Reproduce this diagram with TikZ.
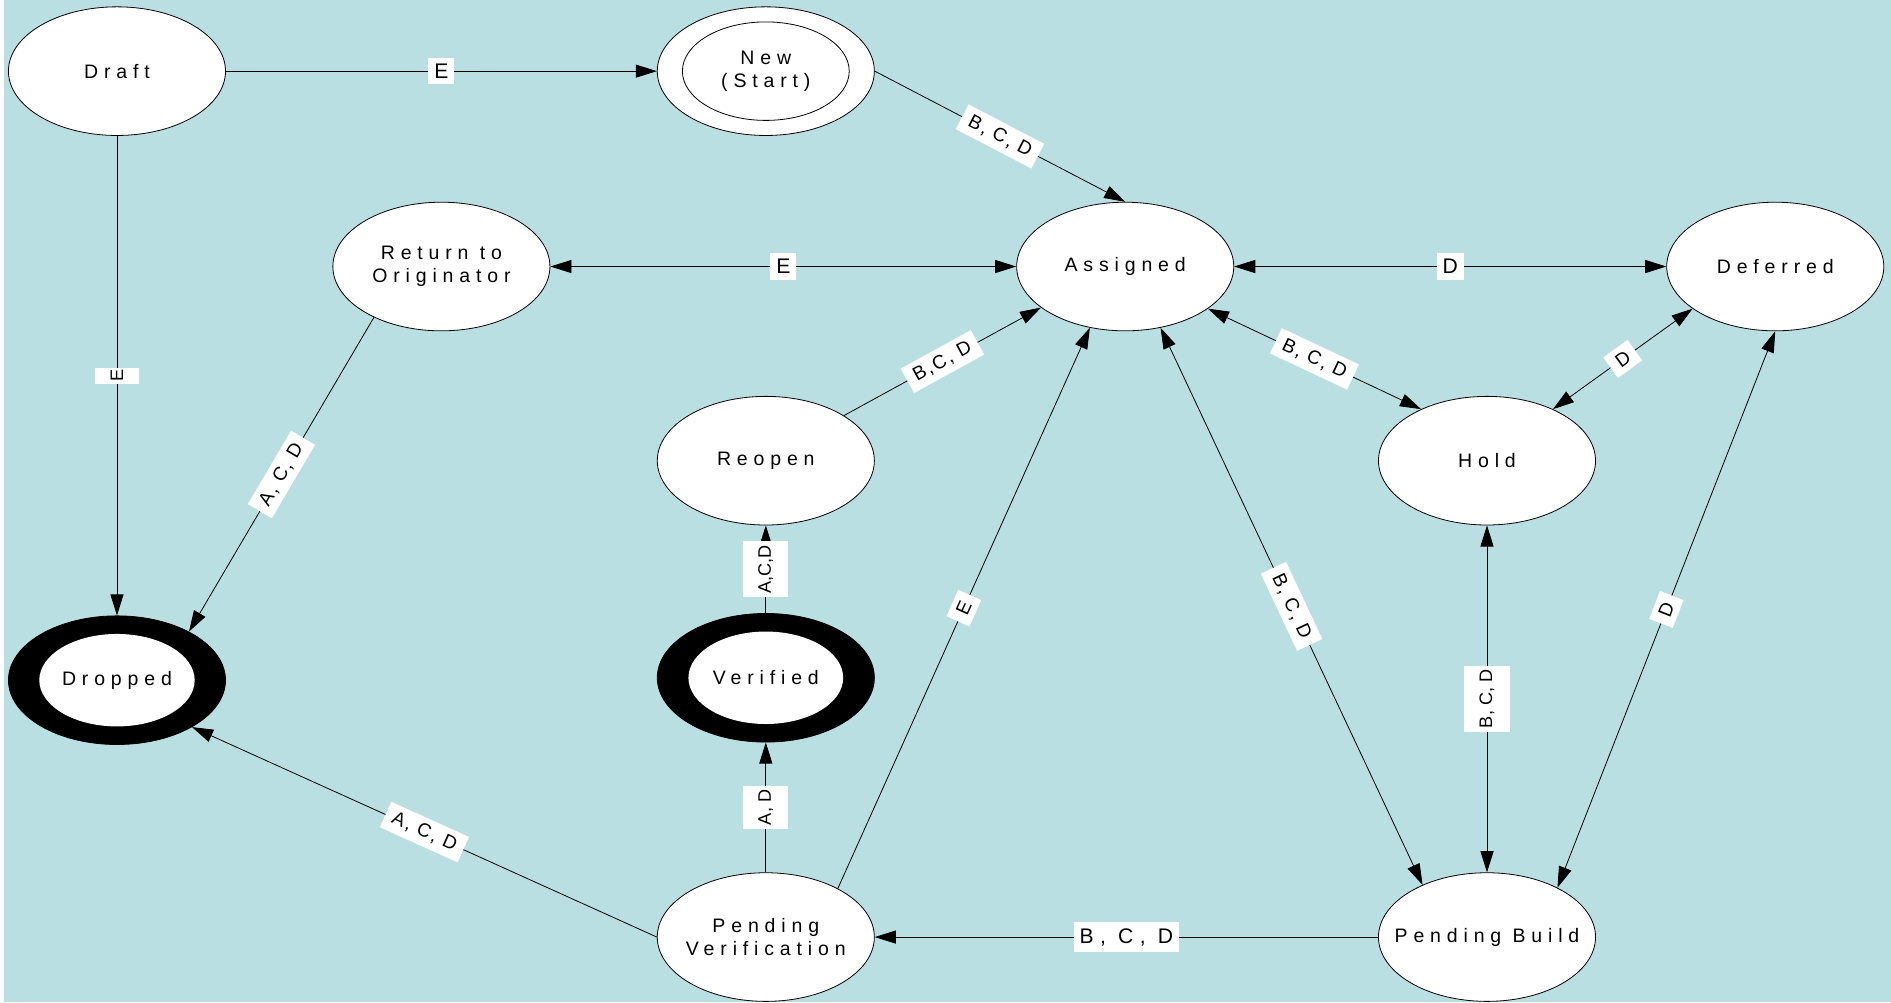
\documentclass[tikz,border=0pt]{standalone}
\usepackage{fontspec}
\usepackage[]{tikz}
\usetikzlibrary{shapes.geometric, arrows.meta}
\usepackage[]{xcolor}
\definecolor{bgblue}{HTML}{B9DFE2}
\newfontfamily\statefont[LetterSpace=30]{Liberation Sans}
\newfontfamily\slantfont[LetterSpace=10]{Liberation Sans}
\newfontfamily\plainfont{Liberation Sans}
\tikzstyle{state} = [ellipse, draw, fill=white, minimum width=108pt, minimum height=64pt, inner xsep=-11pt, inner ysep=0pt, align=center, font=\statefont\fontsize{9.7}{11.4}\selectfont]
\tikzstyle{startring} = [ellipse, draw, fill=white, minimum width=83pt, minimum height=49pt, inner sep=0pt, align=center, font=\statefont\fontsize{9.7}{11.4}\selectfont]
\tikzstyle{endstate} = [state, fill=black]
\tikzstyle{endring} = [ellipse, fill=white, minimum width=77pt, minimum height=46pt, inner sep=0pt, font=\statefont\fontsize{9.7}{11.4}\selectfont]
\tikzset{
	cond/.style={fill=white, inner xsep=3pt, inner ysep=3pt, font=\statefont\fontsize{10.5}{12}\selectfont},
	slant/.style={fill=white, sloped, inner xsep=4pt, inner ysep=3pt, font=\slantfont\fontsize{9.5}{11}\selectfont},
	upward/.style={fill=white, rotate=90, inner xsep=2pt, inner ysep=7.5pt, font=\plainfont\fontsize{9}{10}\selectfont}
	}

\begin{document}
\begin{tikzpicture}[x=0.6pt, y=-0.6pt, thin, >={Triangle[length=10.5pt,width=6.5pt]}]
	\fill[white] (0,0) rectangle (1568,831);
	\fill[bgblue] (3,0) rectangle (1568,831);
	\useasboundingbox (0,0) rectangle (1568,831);

	\node [state] (draft) at (97,59) {Draft};
	\node [state] (new) at (635,59) {};
	\node [startring] (new-in) at (new) {New\\(Start)};
	\node [state] (return) at (366,221) {Return to\\Originator};
	\node [state] (assigned) at (933,221) {Assigned};
	\node [state] (deferred) at (1472,221) {Deferred};
	\node [state] (reopen) at (635,382) {Reopen};
	\node [state] (hold) at (1233,382) {Hold};
	\node [endstate] (dropped) at (97,564) {};
	\node [endring] (dropped-in) at (dropped) {Dropped};
	\node [endstate] (verified) at (635,562) {};
	\node [endring] (verified-in) at (verified) {Verified};
	\node [state] (pv) at (635,777) {Pending\\Verification};
	\node [state] (pb) at (1233,777) {Pending Build};

	\draw[->] (draft) -- node[cond] {E} (new);
	\draw[->] (draft) -- node[upward, inner xsep=1pt, inner ysep=8pt] {E} (dropped);
	\draw[->] (new.east) -- node[slant] {B, C, D} (assigned.north);
	\draw[<->] (return) -- node[cond] {E} (assigned);
	\draw[<->] (assigned) -- node[cond] {D} (deferred);
	\draw[->] (reopen.30) -- node[slant] {B,C, D} (assigned.206);
	\draw[<->] (assigned.333) -- node[slant] {B, C, D} (hold.142);
	\draw[<->] (hold.38) -- node[slant] {D} (deferred.207);
	\draw[->] (pv.34) -- node[slant] {E} (assigned.240);
	\draw[<->] (assigned.300) -- node[slant] {B, C, D} (pb.141);
	\draw[<->] (pb) -- node[upward] {B, C, D} (hold);
	\draw[<->] (deferred.south) -- node[slant] {D} (pb.35);
	\draw[->] (pb) -- node[cond] {B, C, D} (pv);
	\draw[->] (pv) -- node[upward] {A, D} (verified);
	\draw[->] (verified) -- node[upward] {A,C,D} (reopen);
	\draw[->] (pv.west) -- node[slant] {A, C, D} (dropped.328);
	\draw[->] (return.217) -- node[slant] {A, C, D} (dropped.34);
\end{tikzpicture}
\end{document}
